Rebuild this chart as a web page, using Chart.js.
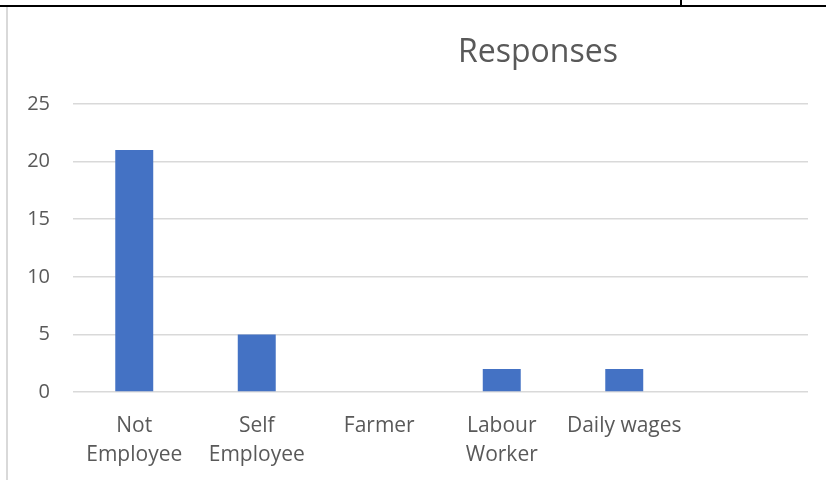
<!DOCTYPE html>
<html>
<head>
<meta charset="utf-8">
<script src="https://cdn.jsdelivr.net/npm/chart.js@4/dist/chart.umd.min.js"></script>
<style>
  html, body { margin: 0; padding: 0; background: #fff; }
  #frame { position: relative; width: 826px; height: 480px; overflow: hidden; }
  #topline { position: absolute; left: 0; top: 5px; width: 826px; height: 2px; background: #000; }
  #tick { position: absolute; left: 680px; top: 0; width: 2px; height: 6px; background: #000; }
  #leftline { position: absolute; left: 6px; top: 7px; width: 2px; height: 473px; background: #d9d9d9; }
  canvas { position: absolute; left: 0; top: 0; }
</style>
</head>
<body>
<div id="frame">
  <canvas id="bar-chart" width="826" height="480"></canvas>
  <div id="topline"></div>
  <div id="tick"></div>
  <div id="leftline"></div>
</div>
<script>
/* dados */
var categorias = [["Not", "Employee"], ["Self", "Employee"], "Farmer", ["Labour", "Worker"], "Daily wages", ""];
var respostas = [21, 5, 0, 2, 2, null];
var yTicks = [0, 5, 10, 15, 20, 25];

var fonte = "'Open Sans', 'Liberation Sans', sans-serif";
var cinza = '#595959';

/* título desenhado à mão, deslocado para a direita */
var tituloPlugin = {
  id: 'titulo',
  afterDraw: function(chart) {
    var ctx = chart.ctx;
    ctx.save();
    ctx.fillStyle = cinza;
    ctx.font = '32px ' + fonte;
    ctx.textAlign = 'center';
    ctx.textBaseline = 'alphabetic';
    ctx.fillText('Responses', 538, 62);
    ctx.restore();
  }
};

var ctx = document.getElementById('bar-chart').getContext('2d');
var chart = new Chart(ctx, {
  type: 'bar',
  data: {
    labels: categorias,
    datasets: [{
      data: respostas,
      backgroundColor: '#4472c4',
      borderWidth: 0,
      categoryPercentage: 1,
      barPercentage: 0.31
    }]
  },
  plugins: [tituloPlugin],
  options: {
    responsive: false,
    animation: false,
    layout: { padding: { top: 104, right: 18, left: 0, bottom: 0 } },
    plugins: {
      legend: { display: false },
      tooltip: { enabled: false }
    },
    scales: {
      x: {
        grid: { display: false },
        border: { display: false },
        ticks: {
          color: cinza,
          font: { family: fonte, size: 21, lineHeight: 1.38 },
          maxRotation: 0,
          autoSkip: false,
          padding: 12
        },
        afterFit: function(scale) { scale.height = 88; }
      },
      y: {
        min: 0,
        max: 25,
        afterBuildTicks: function(scale) {
          scale.ticks = yTicks.map(function(v) { return { value: v }; });
        },
        grid: { color: '#d9d9d9', lineWidth: 1.5, drawTicks: false },
        border: { display: false },
        ticks: {
          color: cinza,
          font: { family: fonte, size: 20 },
          padding: 23
        },
        afterFit: function(scale) { scale.width = 73; }
      }
    }
  }
});
</script>
</body>
</html>
